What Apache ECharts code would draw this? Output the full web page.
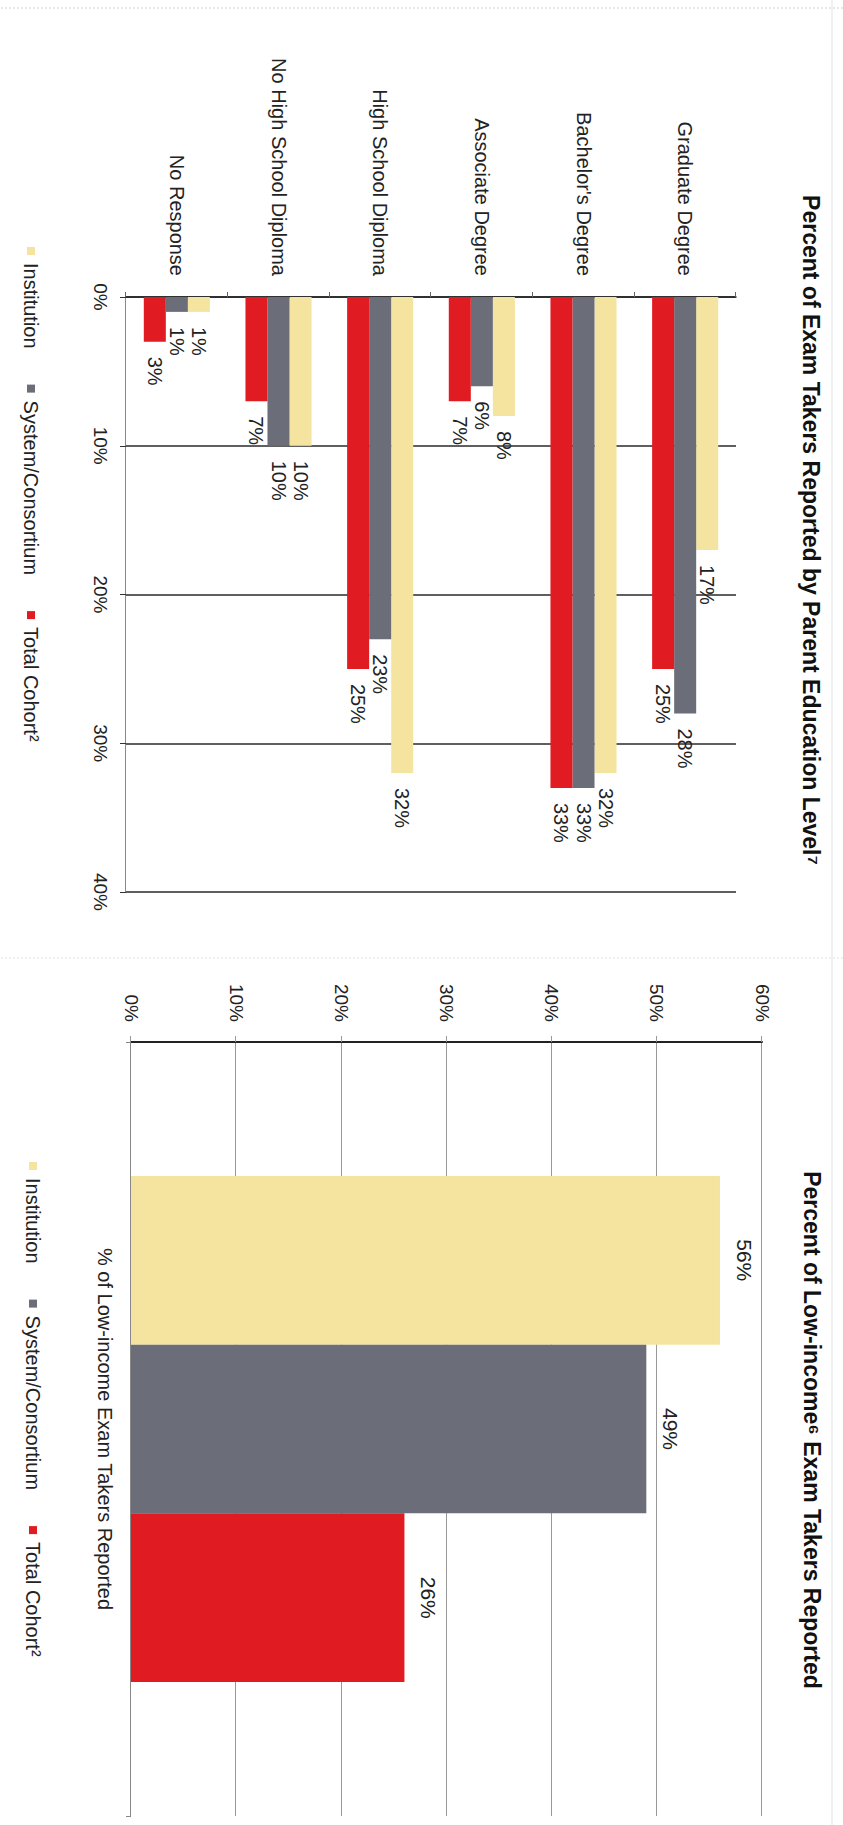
<!DOCTYPE html>
<html><head><meta charset="utf-8">
<script src="https://cdn.jsdelivr.net/npm/echarts@6/dist/echarts.min.js"></script>
<style>
html,body{margin:0;padding:0;width:843px;height:1825px;overflow:hidden;background:#fff;}
#page{position:absolute;left:0;top:0;width:1825px;height:843px;transform-origin:0 0;transform:translate(843px,0) rotate(90deg);}
</style></head><body>
<div id="page"></div>
<script>
// ---- data ----
const eduCategories = ["Graduate Degree", "Bachelor's Degree", "Associate Degree", "High School Diploma", "No High School Diploma", "No Response"];
const eduInstitution = [17, 32, 8, 32, 10, 1];
const eduSystem = [28, 33, 6, 23, 10, 1];
const eduTotal = [25, 33, 7, 25, 7, 3];
const eduAxisMax = 40;
const eduAxisStep = 10;

const incomeCategories = ["% of Low-income Exam Takers Reported"];
const incomeInstitution = [56];
const incomeSystem = [49];
const incomeTotal = [26];
const incomeAxisMax = 60;
const incomeAxisStep = 10;

const seriesNames = ["Institution", "System/Consortium", "Total Cohort²"];
const chartTitles = ["Percent of Exam Takers Reported by Parent Education Level⁷", "Percent of Low-income⁶ Exam Takers Reported"];

// ---- style ----
const colors = ['#F4E4A0', '#6B6E78', '#E11B22'];
const FONT = "'Liberation Sans', Arial, sans-serif";
const chart = echarts.init(document.getElementById('page'), null, {renderer: 'svg', width: 1825, height: 843});

function eduSeries(name, data, color) {
  return {name, type: 'bar', xAxisIndex: 0, yAxisIndex: 0, data,
    barGap: '0%', barCategoryGap: '35%',
    itemStyle: {color},
    label: {show: true, position: 'right', distance: 15, formatter: '{c}%', fontSize: 20, color: '#222', fontFamily: FONT}};
}
function incSeries(name, data, color) {
  return {name, type: 'bar', xAxisIndex: 1, yAxisIndex: 1, data,
    barGap: '0%', barCategoryGap: '34.6%',
    itemStyle: {color},
    label: {show: true, position: 'top', distance: 14, formatter: '{c}%', fontSize: 21, color: '#222', fontFamily: FONT}};
}
const legendCommon = {
  data: seriesNames, icon: 'rect', itemWidth: 8, itemHeight: 8, itemGap: 36, orient: 'horizontal',
  selectedMode: false,
  textStyle: {fontSize: 20, color: '#222', fontFamily: FONT, padding: [0, 0, 0, 3]}
};

chart.setOption({
  animation: false,
  color: colors,
  textStyle: {fontFamily: FONT},
  graphic: [
    {type: 'line', shape: {x1: 8, y1: 0, x2: 8, y2: 843}, style: {stroke: '#cfcfcf', lineDash: [2, 2], lineWidth: 1}},
    {type: 'line', shape: {x1: 958, y1: 0, x2: 958, y2: 843}, style: {stroke: '#dedede', lineDash: [2, 2], lineWidth: 1}},
    {type: 'line', shape: {x1: 0, y1: 11, x2: 1825, y2: 11}, style: {stroke: '#e3e3e3', lineWidth: 1}}
  ],
  title: [
    {text: chartTitles[0], left: 525, top: 16, textAlign: 'center',
     textStyle: {fontSize: 23, fontWeight: 'bold', color: '#111', fontFamily: FONT}},
    {text: chartTitles[1], left: 1425, top: 15, textAlign: 'center',
     textStyle: {fontSize: 23, fontWeight: 'bold', color: '#111', fontFamily: FONT}}
  ],
  legend: [
    Object.assign({left: 242, top: 797}, legendCommon),
    Object.assign({left: 1157, top: 795}, legendCommon)
  ],
  grid: [
    {left: 297, top: 107, width: 595, height: 610},
    {left: 1042, top: 81, width: 774, height: 631}
  ],
  xAxis: [
    {gridIndex: 0, type: 'value', min: 0, max: eduAxisMax, interval: eduAxisStep,
     axisLabel: {formatter: '{value}%', fontSize: 19, color: '#222', margin: 16},
     axisLine: {show: true, lineStyle: {color: '#888', width: 1}},
     axisTick: {show: true, length: 6, lineStyle: {color: '#333'}},
     splitLine: {show: true, lineStyle: {color: '#2a2a2a', width: 1.5}}},
    {gridIndex: 1, type: 'category', data: incomeCategories,
     axisLabel: {fontSize: 20, color: '#222', margin: 16},
     axisLine: {show: true, lineStyle: {color: '#888', width: 1}},
     axisTick: {show: true, length: 5, lineStyle: {color: '#888'}}}
  ],
  yAxis: [
    {gridIndex: 0, type: 'category', inverse: true, data: eduCategories,
     axisLabel: {fontSize: 20, color: '#222', margin: 21},
     axisLine: {show: true, lineStyle: {color: '#222', width: 1.5}},
     axisTick: {show: true, length: 5, lineStyle: {color: '#666'}}},
    {gridIndex: 1, type: 'value', min: 0, max: incomeAxisMax, interval: incomeAxisStep,
     axisLabel: {formatter: '{value}%', fontSize: 19, color: '#222', margin: 20},
     axisLine: {show: true, lineStyle: {color: '#222', width: 2}},
     axisTick: {show: true, length: 6, lineStyle: {color: '#999'}},
     splitLine: {show: true, lineStyle: {color: '#999', width: 1}}}
  ],
  series: [
    eduSeries(seriesNames[0], eduInstitution, colors[0]),
    eduSeries(seriesNames[1], eduSystem, colors[1]),
    eduSeries(seriesNames[2], eduTotal, colors[2]),
    incSeries(seriesNames[0], incomeInstitution, colors[0]),
    incSeries(seriesNames[1], incomeSystem, colors[1]),
    incSeries(seriesNames[2], incomeTotal, colors[2])
  ]
});
</script>
</body></html>
